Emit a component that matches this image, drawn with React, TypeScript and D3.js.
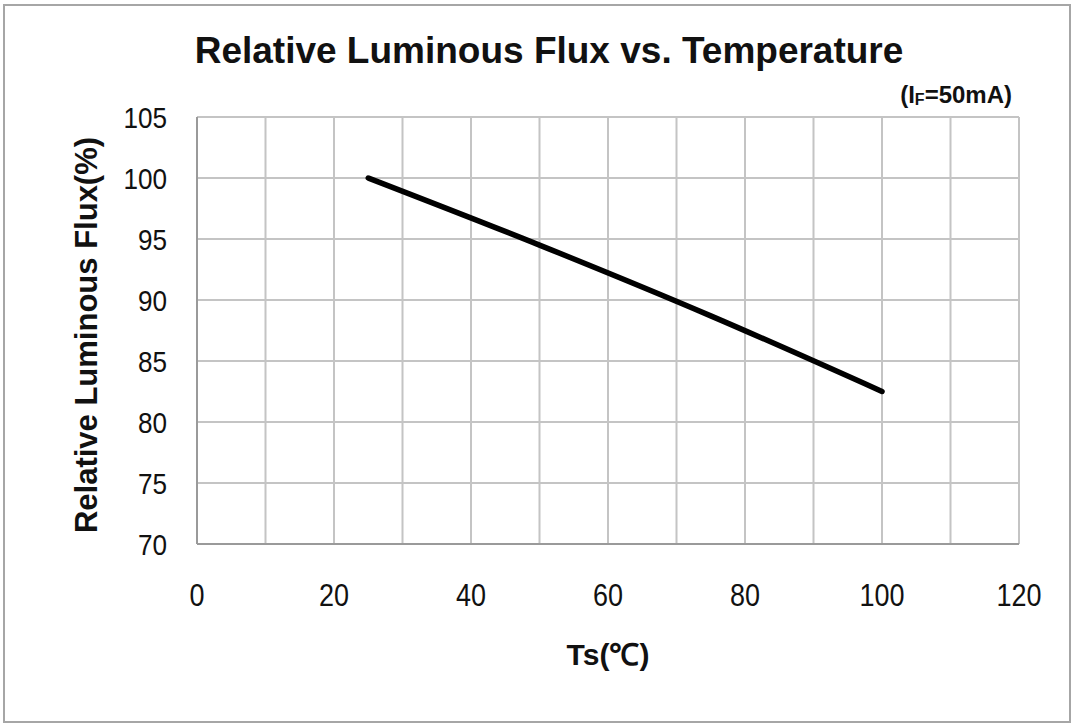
import React, { useEffect, useRef } from 'react';
import * as d3 from 'd3';

// curve: Ts (°C) vs relative flux (%)
const temps = [25, 50, 75, 100];
const flux = [100, 94.5, 88.7, 82.5];

const xTicks = [0, 20, 40, 60, 80, 100, 120];
const yTicks = [70, 75, 80, 85, 90, 95, 100, 105];
const xGrid = d3.range(0, 121, 10);

const titleText = 'Relative Luminous Flux vs. Temperature';
const xLabel = 'Ts(℃)';
const yLabel = 'Relative Luminous Flux(%)';

function App() {
  const ref = useRef<SVGSVGElement>(null);

  useEffect(() => {
    const svg = d3.select(ref.current);
    svg.selectAll('*').remove();

    const W = 1072;
    const H = 725;
    const margin = { top: 117, right: 53, bottom: 181, left: 197 };
    const width = W - margin.left - margin.right;
    const height = H - margin.top - margin.bottom;
    const font = "'Liberation Sans', Arial, sans-serif";
    const squeeze = 0.87; // tick labels in the picture are a narrow face

    svg
      .append('rect')
      .attr('x', 4)
      .attr('y', 5)
      .attr('width', W - 6)
      .attr('height', H - 8)
      .attr('fill', 'white')
      .attr('stroke', '#a6a6a6')
      .attr('stroke-width', 2);

    const x = d3.scaleLinear().domain([0, 120]).range([0, width]);
    const y = d3.scaleLinear().domain([70, 105]).range([height, 0]);

    const g = svg
      .append('g')
      .attr('transform', `translate(${margin.left},${margin.top})`);

    g.selectAll('.vgrid')
      .data(xGrid)
      .enter()
      .append('line')
      .attr('x1', (d) => x(d))
      .attr('x2', (d) => x(d))
      .attr('y1', 0)
      .attr('y2', height)
      .attr('stroke', '#c4c4c4')
      .attr('stroke-width', 2);

    g.selectAll('.hgrid')
      .data(yTicks)
      .enter()
      .append('line')
      .attr('x1', 0)
      .attr('x2', width)
      .attr('y1', (d) => y(d))
      .attr('y2', (d) => y(d))
      .attr('stroke', '#c4c4c4')
      .attr('stroke-width', 2);

    // darker left and bottom axis lines
    g.append('line')
      .attr('x1', 0)
      .attr('x2', 0)
      .attr('y1', 0)
      .attr('y2', height)
      .attr('stroke', '#9a9a9a')
      .attr('stroke-width', 2);
    g.append('line')
      .attr('x1', 0)
      .attr('x2', width)
      .attr('y1', height)
      .attr('y2', height)
      .attr('stroke', '#9a9a9a')
      .attr('stroke-width', 2);

    const line = d3
      .line<number>()
      .x((d, i) => x(temps[i]))
      .y((d) => y(d))
      .curve(d3.curveMonotoneX);

    g.append('path')
      .datum(flux)
      .attr('d', line)
      .attr('fill', 'none')
      .attr('stroke', 'black')
      .attr('stroke-width', 5.5)
      .attr('stroke-linecap', 'round')
      .attr('stroke-linejoin', 'round');

    g.selectAll('.ytick')
      .data(yTicks)
      .enter()
      .append('text')
      .attr('transform', (d) => `translate(-30,${y(d)}) scale(${squeeze},1)`)
      .attr('dy', '0.36em')
      .attr('text-anchor', 'end')
      .attr('font-family', font)
      .attr('font-size', 30)
      .attr('fill', '#111')
      .text((d) => d);

    g.selectAll('.xtick')
      .data(xTicks)
      .enter()
      .append('text')
      .attr('transform', (d) => `translate(${x(d)},${height + 51}) scale(${squeeze},1)`)
      .attr('dy', '0.36em')
      .attr('text-anchor', 'middle')
      .attr('font-family', font)
      .attr('font-size', 31)
      .attr('fill', '#111')
      .text((d) => d);

    svg
      .append('text')
      .attr('x', 549)
      .attr('y', 63)
      .attr('text-anchor', 'middle')
      .attr('font-family', font)
      .attr('font-weight', 'bold')
      .attr('font-size', 37)
      .attr('fill', '#111')
      .text(titleText);

    const note = svg
      .append('text')
      .attr('x', 1012)
      .attr('y', 103)
      .attr('text-anchor', 'end')
      .attr('font-family', font)
      .attr('font-weight', 'bold')
      .attr('font-size', 24)
      .attr('fill', '#111');
    note.append('tspan').text('(I');
    note.append('tspan').attr('font-size', 16).attr('dy', 2).text('F');
    note.append('tspan').attr('dy', -2).text('=50mA)');

    svg
      .append('text')
      .attr('transform', `translate(97,335) rotate(-90)`)
      .attr('text-anchor', 'middle')
      .attr('font-family', font)
      .attr('font-weight', 'bold')
      .attr('font-size', 31)
      .attr('fill', '#111')
      .text(yLabel);

    svg
      .append('text')
      .attr('x', margin.left + width / 2)
      .attr('y', 665)
      .attr('text-anchor', 'middle')
      .attr('font-family', font)
      .attr('font-weight', 'bold')
      .attr('font-size', 30)
      .attr('fill', '#111')
      .text(xLabel);
  }, []);

  return (
    <svg
      ref={ref}
      width={1072}
      height={725}
      style={{ position: 'absolute', left: 0, top: 0, background: 'white' }}
    />
  );
}

export default App;
